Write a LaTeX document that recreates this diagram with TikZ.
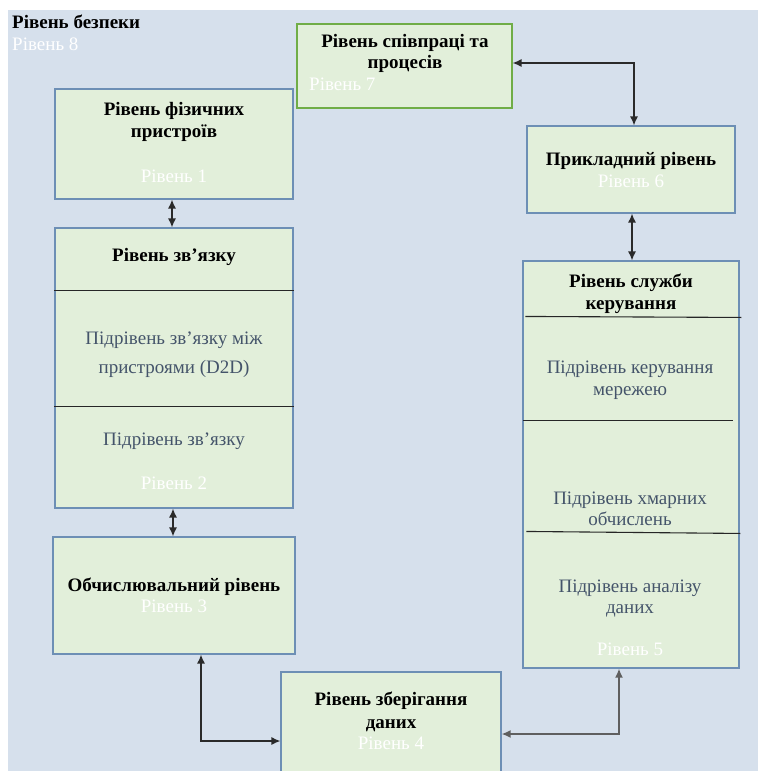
\documentclass[tikz,border=0pt]{standalone}
\usepackage{fontspec}
\setmainfont{Liberation Serif}
\usetikzlibrary{arrows.meta,calc}
\definecolor{bgblue}{HTML}{D6E0EC}
\definecolor{boxfill}{HTML}{E2EFDA}
\definecolor{boxline}{HTML}{6D8FB5}
\definecolor{greenline}{HTML}{70AD47}
\definecolor{subtext}{HTML}{44546A}
\definecolor{arrowcol}{HTML}{2A2A2A}
\tikzset{
  layerbox/.style={draw=boxline, fill=boxfill, line width=1.1pt, inner sep=0pt},
  title/.style={anchor=base, inner sep=0pt, font=\fontsize{19}{22}\selectfont\bfseries, text=black},
  subtitle/.style={anchor=base, inner sep=0pt, font=\fontsize{19}{22}\selectfont, text=subtext},
  levelno/.style={anchor=base, inner sep=0pt, font=\fontsize{19}{22}\selectfont, text=white},
  conn/.style={draw=arrowcol, line width=1.4pt, {Latex[length=9pt,width=8pt]}-{Latex[length=9pt,width=8pt]}},
  divider/.style={draw=black!85, line width=1.1pt}
}
\begin{document}
\begin{tikzpicture}[x=1pt,y=-1pt]
\useasboundingbox (0,0) rectangle (758,771);
% security level background
\fill[bgblue] (8,10) rectangle (758,771);
\node[title, anchor=base west] (sec) at (12,28) {Рівень безпеки};
\node[levelno, anchor=base west] (sec8) at (12,50) {Рівень 8};

% layer boxes
\node[layerbox, minimum width=238pt, minimum height=110pt] (b1) at (174,144) {};
\node[layerbox, draw=greenline, minimum width=215pt, minimum height=84pt] (b7) at (404.5,66) {};
\node[layerbox, minimum width=208pt, minimum height=87pt] (b6) at (631,169.5) {};
\node[layerbox, minimum width=216pt, minimum height=407pt] (b5) at (631,464.5) {};
\node[layerbox, minimum width=238pt, minimum height=280pt] (b2) at (174,368) {};
\node[layerbox, minimum width=242pt, minimum height=117pt] (b3) at (174,595.5) {};
\node[layerbox, minimum width=220pt, minimum height=104pt] (b4) at (391,724) {};

% sublayer dividers
\draw[divider] ($(b2.north west)+(0,63)$) -- ($(b2.north east)+(0,63)$);
\draw[divider] ($(b2.north west)+(0,179)$) -- ($(b2.north east)+(0,179)$);
\draw[divider] ($(b5.north west)+(3,56)$) -- ($(b5.north west)+(219,57)$);
\draw[divider] ($(b5.north west)+(1,160)$) -- ($(b5.north west)+(211,160)$);
\draw[divider] ($(b5.north west)+(4,271)$) -- ($(b5.north west)+(218,273)$);

% texts: level 1
\node[title] (t1a) at (174,115) {Рівень фізичних};
\node[title] (t1b) at (174,137) {пристроїв};
\node[levelno] (t1c) at (174,182) {Рівень 1};
% level 7
\node[title] (t7a) at (405,47) {Рівень співпраці та};
\node[title] (t7b) at (405,68) {процесів};
\node[levelno, anchor=base west] (t7c) at (309,90) {Рівень 7};
% level 6
\node[title] (t6a) at (631,165) {Прикладний рівень};
\node[levelno] (t6b) at (631,187) {Рівень 6};
% level 5
\node[title] (t5a) at (631,287) {Рівень служби};
\node[title] (t5b) at (631,309) {керування};
\node[subtitle] (t5c) at (630,373) {Підрівень керування};
\node[subtitle] (t5d) at (630,395) {мережею};
\node[subtitle] (t5e) at (630,504) {Підрівень хмарних};
\node[subtitle] (t5f) at (630,525) {обчислень};
\node[subtitle] (t5g) at (630,592) {Підрівень аналізу};
\node[subtitle] (t5h) at (630,613) {даних};
\node[levelno] (t5i) at (630,655) {Рівень 5};
% level 2
\node[title] (t2a) at (174,261) {Рівень зв’язку};
\node[subtitle] (t2b) at (174,344) {Підрівень зв’язку між};
\node[subtitle] (t2c) at (174,373) {пристроями (D2D)};
\node[subtitle] (t2d) at (174,445) {Підрівень зв’язку};
\node[levelno] (t2e) at (174,489) {Рівень 2};
% level 3
\node[title] (t3a) at (174,591) {Обчислювальний рівень};
\node[levelno] (t3b) at (174,612) {Рівень 3};
% level 4
\node[title] (t4a) at (391,705) {Рівень зберігання};
\node[title] (t4b) at (391,728) {даних};
\node[levelno] (t4c) at (391,749) {Рівень 4};

% connectors
\coordinate (k12) at (172,0);
\coordinate (k23) at (173,0);
\coordinate (k34) at (201,741);
\coordinate (k45) at (619,734);
\coordinate (k76) at (634,63);
\coordinate (k65) at (632,0);
\draw[conn] (b1.south -| k12) -- (b2.north -| k12);
\draw[conn] (b2.south -| k23) -- (b3.north -| k23);
\draw[conn] (b3.south -| k34) |- (b4.west |- k34);
\draw[conn, draw=arrowcol!75, line width=1.9pt] (b4.east |- k45) -| (b5.south -| k45);
\draw[conn] (b7.east |- k76) -| (b6.north -| k76);
\draw[conn] (b6.south -| k65) -- (b5.north -| k65);
\end{tikzpicture}
\end{document}
